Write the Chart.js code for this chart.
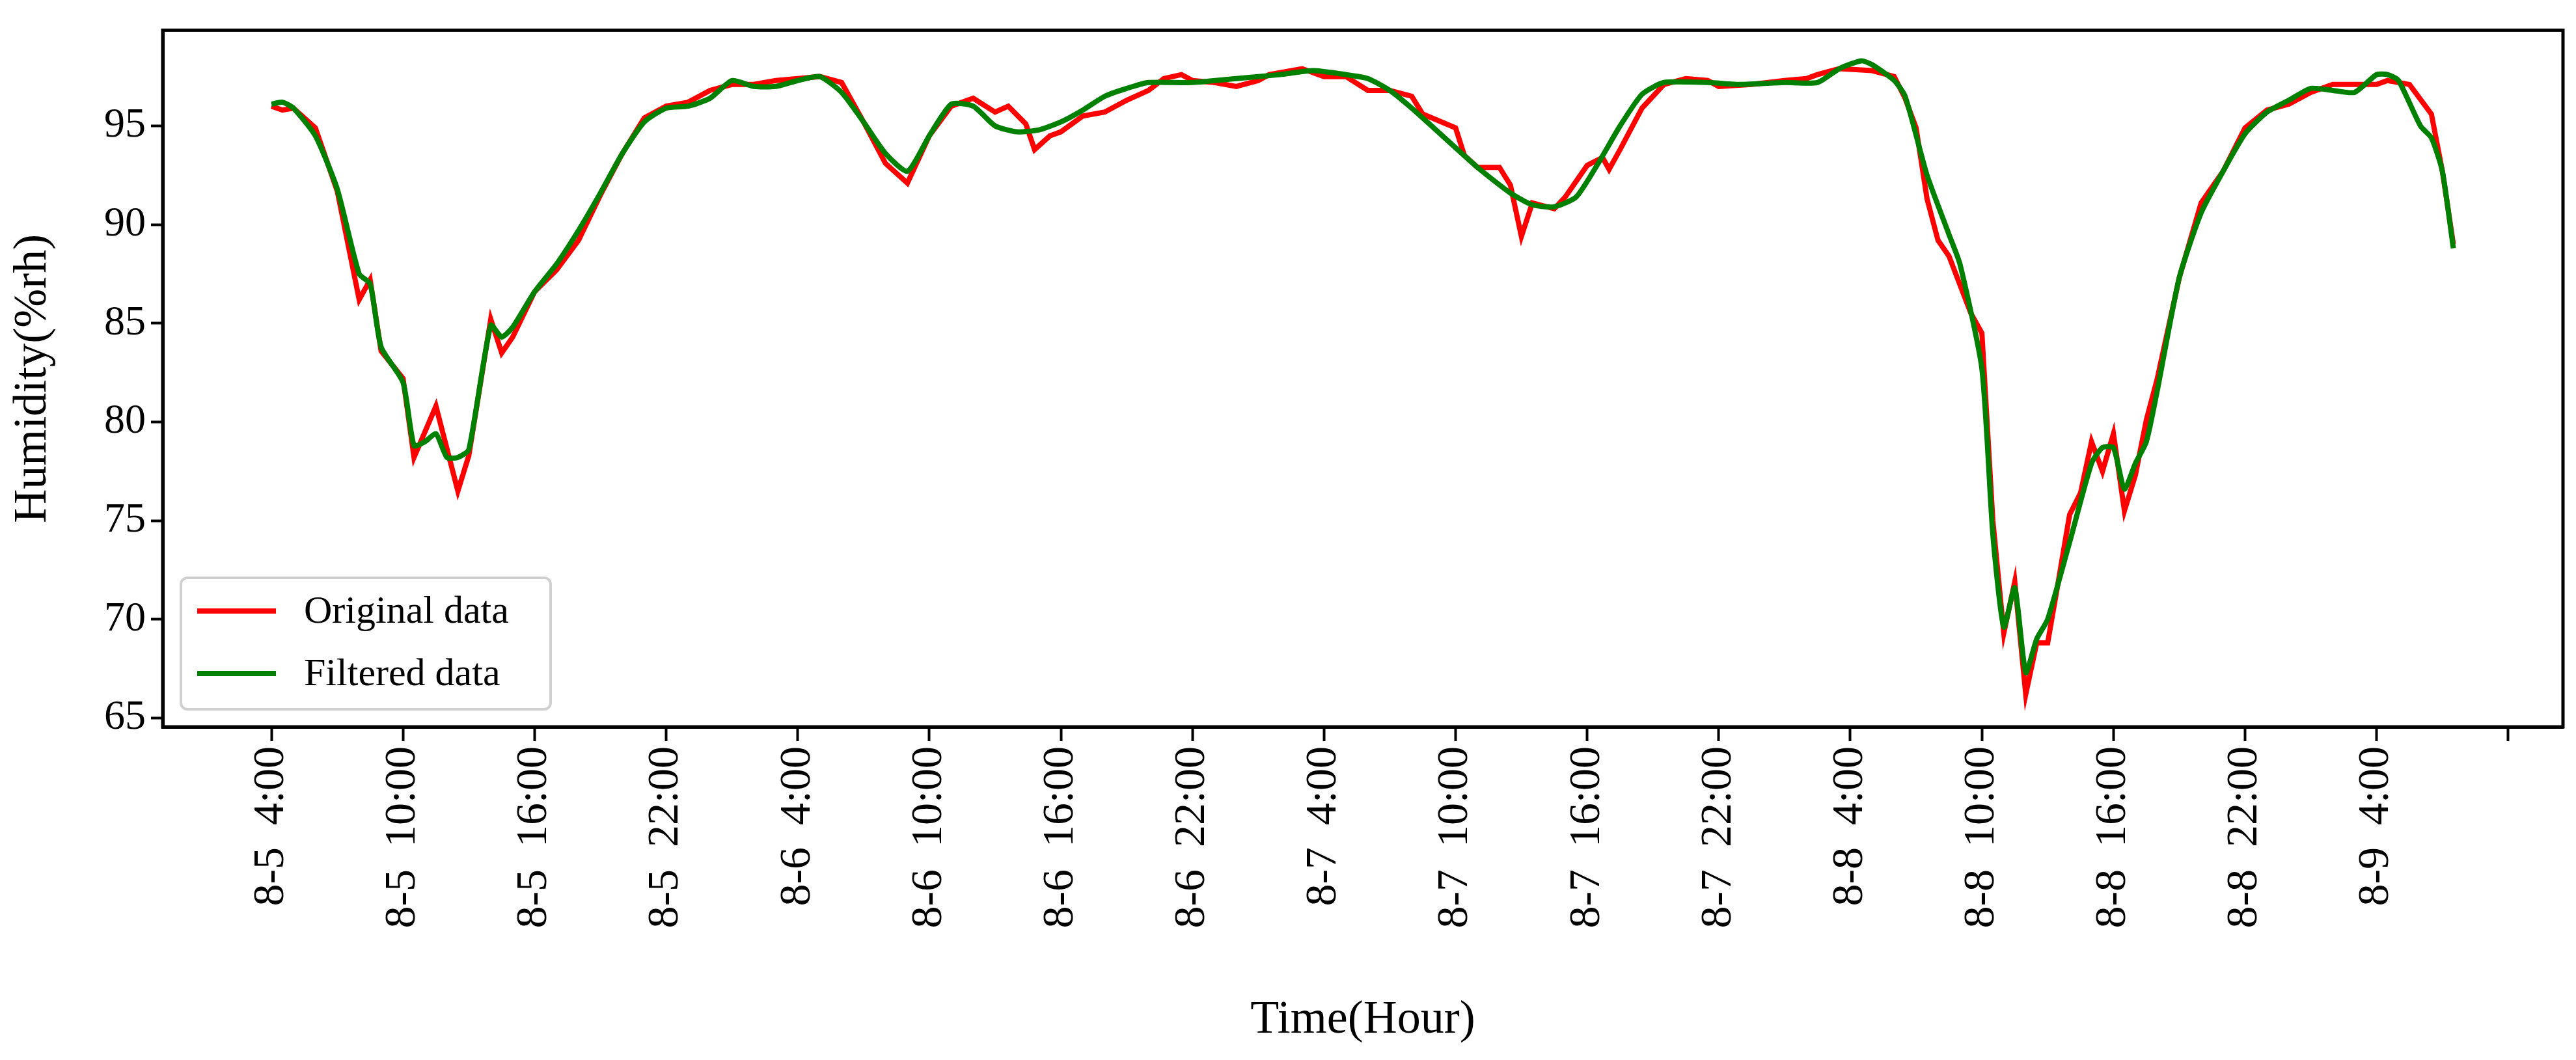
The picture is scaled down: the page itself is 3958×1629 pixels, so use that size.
<!DOCTYPE html>
<html><head><meta charset="utf-8">
<script src="https://cdn.jsdelivr.net/npm/chart.js@4"></script>
<style>html,body{margin:0;padding:0;background:#fff}#wrap{width:3958px;height:1629px}</style>
</head><body><div id="wrap"><canvas id="c" width="3958" height="1629"></canvas></div>
<script>
const tickHours = [0,6,12,18,24,30,36,42,48,54,60,66,72,78,84,90,96,102];
const tickLabels = ["8-5  4:00","8-5  10:00","8-5  16:00","8-5  22:00","8-6  4:00","8-6  10:00","8-6  16:00","8-6  22:00","8-7  4:00","8-7  10:00","8-7  16:00","8-7  22:00","8-8  4:00","8-8  10:00","8-8  16:00","8-8  22:00","8-9  4:00",""];
const yTicks = [65,70,75,80,85,90,95];

const hoursOrig = [0,0.5,1,2,3,4,4.5,5,6,6.5,7.5,8.5,9,10,10.5,11,12,13,14,15,16,17,18,19,20,21,22,23,24,25,26,27,28,29,30,31,32,33,33.6,34.4,34.8,35.5,36,37,38,39,40,40.7,41.5,42,43,44,45,45.5,47,48,49,50,51,52,52.5,54,54.4,55,56,56.5,57,57.5,58.5,59,60,60.7,61,61.5,62.5,63.5,64.5,65.5,66,67.5,69,70,70.5,71.5,73,74,74.5,75,75.5,76,76.5,77.5,78,78.5,79,79.5,80,80.5,81,81.5,82,82.5,83,83.5,84,84.5,85,85.5,86,87,88,89,90,91,92,93,94,95,96,96.5,97.5,98.5,99,99.5];
const humidityOrig = [96.0,95.8,95.9,94.9,91.7,86.2,87.2,83.6,82.2,78.2,80.8,76.5,78.3,85.2,83.5,84.3,86.6,87.7,89.2,91.5,93.6,95.4,96.0,96.2,96.8,97.1,97.1,97.3,97.4,97.5,97.2,95.2,93.1,92.1,94.5,96.0,96.4,95.7,96.0,95.1,93.8,94.5,94.7,95.5,95.7,96.3,96.8,97.4,97.6,97.3,97.2,97.0,97.3,97.6,97.9,97.5,97.5,96.8,96.8,96.5,95.6,94.9,93.5,92.9,92.9,92.0,89.4,91.1,90.8,91.4,93.0,93.4,92.8,93.8,95.9,97.1,97.4,97.3,97.0,97.1,97.3,97.4,97.6,97.9,97.8,97.5,96.4,94.9,91.3,89.2,88.4,85.5,84.5,75.0,69.3,71.9,66.2,68.8,68.8,72.0,75.3,76.4,79.0,77.5,79.4,75.5,77.3,80.1,82.2,87.3,91.1,92.7,94.9,95.8,96.1,96.7,97.1,97.1,97.1,97.3,97.1,95.6,92.7,89.0];

const hoursFilt = [0,0.5,1,2,3,4,4.5,5,6,6.5,7,7.5,8,8.5,9,10,10.5,11,12,13,14,15,16,17,18,19,20,21,22,23,24,25,26,27,28,29,30,31,32,33,34,35,36,37,38,39,40,42,44,46,47.5,49,50,51,52,53,55,56.5,57.5,58.5,59.5,60.5,61.5,62.5,63.5,65.5,67,69,70.5,71.5,72.5,73,74,74.5,75.5,76.5,77,78,78.5,79,79.5,80,80.5,81,82,83,83.5,84,84.5,85,85.5,86,87,88,89,90,91,92,93,94,95,96,96.5,97,98,98.5,99,99.5];
const humidityFilt = [96.1,96.2,95.9,94.5,91.8,87.5,87.0,83.8,82.0,78.8,79.0,79.4,78.2,78.2,78.6,84.9,84.3,84.8,86.6,88.0,89.7,91.6,93.6,95.2,95.9,96.0,96.4,97.3,97.0,97.0,97.3,97.5,96.7,95.2,93.6,92.7,94.5,96.1,96.0,95.0,94.7,94.8,95.2,95.8,96.5,96.9,97.2,97.2,97.4,97.6,97.8,97.6,97.4,96.8,95.9,94.9,92.9,91.6,91.0,90.9,91.4,93.1,95.0,96.6,97.2,97.2,97.1,97.2,97.2,97.9,98.3,98.1,97.3,96.5,92.5,89.5,88.0,82.7,74.3,69.6,71.6,67.3,69.0,70.0,73.9,77.9,78.7,78.7,76.6,77.9,79.0,81.6,87.3,90.6,92.7,94.6,95.7,96.3,96.9,96.8,96.7,97.6,97.6,97.3,95.0,94.4,92.7,88.8];

const FONT = "'Liberation Serif', 'DejaVu Serif', serif";

const frame = {
  id:'frame',
  afterDraw(chart){
    const {ctx, chartArea:a} = chart;
    ctx.save();
    ctx.strokeStyle='#000'; ctx.lineWidth=5;
    ctx.strokeRect(a.left,a.top,a.right-a.left,a.bottom-a.top);
    const bx=a.left+28, bh=202, by=a.bottom-bh-27, bw=568;
    ctx.fillStyle='rgba(255,255,255,0.85)';
    ctx.strokeStyle='#d0d0d0'; ctx.lineWidth=4;
    ctx.beginPath(); ctx.roundRect(bx,by,bw,bh,10); ctx.fill(); ctx.stroke();
    chart.data.datasets.forEach((ds,i)=>{
      const y = by+51+i*96;
      ctx.strokeStyle=ds.borderColor; ctx.lineWidth=8;
      ctx.beginPath(); ctx.moveTo(bx+25,y); ctx.lineTo(bx+146,y); ctx.stroke();
      ctx.fillStyle='#000'; ctx.font='60px '+FONT; ctx.textBaseline='middle';
      ctx.fillText(ds.label,bx+189,y+2);
    });
    ctx.restore();
  }
};

new Chart(document.getElementById('c'),{
  type:'line',
  data:{datasets:[
    {label:'Original data',order:1,data:hoursOrig.map((h,i)=>({x:h,y:humidityOrig[i]})),borderColor:'#ff0000',borderWidth:8,pointRadius:0,tension:0},
    {label:'Filtered data',order:0,data:hoursFilt.map((h,i)=>({x:h,y:humidityFilt[i]})),borderColor:'#008000',borderWidth:8,pointRadius:0,tension:0.2}
  ]},
  options:{
    responsive:false,animation:false,
    layout:{padding:{top:0,right:20,left:0,bottom:0}},
    plugins:{legend:{display:false},tooltip:{enabled:false}},
    scales:{
      x:{type:'linear',min:-4.96,max:104.5,
        afterBuildTicks(s){s.ticks=tickHours.map(v=>({value:v}));},
        afterFit(s){s.height=512;},
        grid:{drawOnChartArea:false,tickLength:22,tickWidth:4,color:'#000'},
        border:{color:'#000',width:5},
        ticks:{autoSkip:false,maxRotation:90,minRotation:90,color:'#000',font:{family:FONT,size:68},padding:8,
          callback:(v)=>{const i=tickHours.indexOf(v);return i>=0?tickLabels[i]:'';}},
        title:{display:true,text:'Time(Hour)',color:'#000',font:{family:FONT,size:72},padding:{top:0,bottom:18}}
      },
      y:{min:64.55,max:99.85,
        afterBuildTicks(s){s.ticks=yTicks.map(v=>({value:v}));},
        afterFit(s){s.width=250;},
        grid:{drawOnChartArea:false,tickLength:18,tickWidth:4,color:'#000'},
        border:{color:'#000',width:5},
        ticks:{color:'#000',font:{family:FONT,size:64},padding:8},
        title:{display:true,text:'Humidity(%rh)',color:'#000',font:{family:FONT,size:72},padding:{top:8,bottom:0}}
      }
    }
  },
  plugins:[frame]
});
</script></body></html>
